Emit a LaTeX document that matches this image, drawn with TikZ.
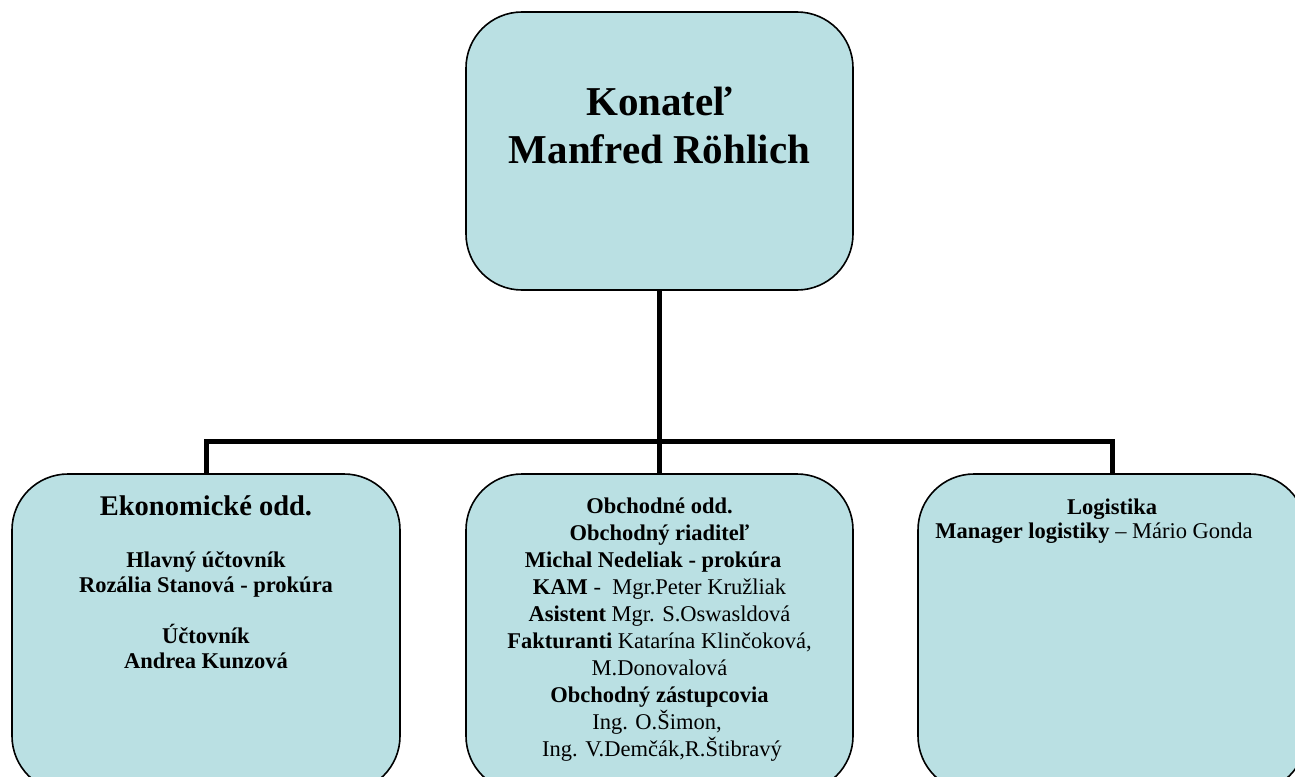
\documentclass[tikz,border=0pt]{standalone}
\usepackage{fontspec}
\setmainfont{Liberation Serif}
\definecolor{boxfill}{HTML}{BAE0E3}
\begin{document}
\begin{tikzpicture}[x=1pt,y=-1pt,
  orgbox/.style={draw=black, line width=1.6pt, fill=boxfill, rounded corners=56pt, rectangle, inner sep=0pt},
  link/.style={draw=black, line width=5pt},
  txt/.style={inner sep=0pt, anchor=base, text=black},
  big/.style={txt, font=\fontsize{41}{48}\selectfont\bfseries},
  head/.style={txt, font=\fontsize{28.5}{32}\selectfont\bfseries},
  body/.style={txt, font=\fontsize{22.5}{27}\selectfont},
  bbody/.style={txt, font=\fontsize{22.5}{27}\selectfont\bfseries}]
\useasboundingbox (0,0) rectangle (1295,776);
\clip (0,0) rectangle (1295,776);
% boxes
\node[orgbox, minimum width=387pt, minimum height=278pt] (top) at (659.5,151) {};
\node[orgbox, minimum width=388pt, minimum height=318pt] (eko) at (206,633) {};
\node[orgbox, minimum width=387pt, minimum height=318pt] (obc) at (659.5,633) {};
\node[orgbox, minimum width=388pt, minimum height=318pt] (log) at (1112,633) {};
% connectors
\coordinate (bar) at (659.5,441);
\draw[link] (top.south) -- (obc.north);
\draw[link] (eko.north) |- (bar) -| (log.north);
% top box
\node[big] (t1) at (659.5,115) {Konateľ};
\node[big] (t2) at (659.5,163) {Manfred Röhlich};
% economic dept
\node[head] (e0) at (206,515) {Ekonomické odd.};
\node[bbody] (e1) at (206,567) {Hlavný účtovník};
\node[bbody] (e2) at (206,592) {Rozália Stanová - prokúra};
\node[bbody] (e3) at (206,643) {Účtovník};
\node[bbody] (e4) at (206,668) {Andrea Kunzová};
% sales dept
\node[bbody] (m1) at (659.5,513) {Obchodné odd.};
\node[bbody] (m2) at (659.5,540) {Obchodný riaditeľ};
\node[bbody] (m3) at (653,567) {Michal Nedeliak - prokúra};
\node[body]  (m4) at (659.5,594) {\textbf{KAM} -\ \ Mgr.Peter Kružliak};
\node[body]  (m5) at (659.5,621) {\textbf{Asistent} Mgr. S.Oswasldová};
\node[body]  (m6) at (659.5,648) {\textbf{Fakturanti} Katarína Klinčoková,};
\node[body]  (m7) at (659.5,675) {M.Donovalová};
\node[bbody] (m8) at (659.5,702) {Obchodný zástupcovia};
\node[body]  (m9) at (657,729) {Ing. O.Šimon,};
\node[body]  (m10) at (662,756) {Ing. V.Demčák,R.Štibravý};
% logistics
\node[bbody] (l1) at (1112,514) {Logistika};
\node[body] (l2) at (1094,538) {\textbf{Manager logistiky} -- Mário Gonda};
\end{tikzpicture}
\end{document}
